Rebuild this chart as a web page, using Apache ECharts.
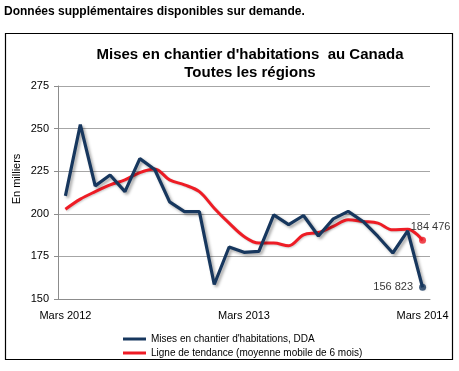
<!DOCTYPE html>
<html>
<head>
<meta charset="utf-8">
<script src="https://cdn.jsdelivr.net/npm/echarts@6/dist/echarts.min.js"></script>
<style>html,body{margin:0;padding:0;background:#fff;}#c{width:459px;height:371px;}</style>
</head>
<body>
<div id="c"></div>
<script>
const categories = [
  "Mars 2012","Avr. 2012","Mai 2012","Juin 2012","Juil. 2012","Août 2012","Sept. 2012","Oct. 2012","Nov. 2012","Déc. 2012","Janv. 2013","Févr. 2013",
  "Mars 2013","Avr. 2013","Mai 2013","Juin 2013","Juil. 2013","Août 2013","Sept. 2013","Oct. 2013","Nov. 2013","Déc. 2013","Janv. 2014","Févr. 2014",
  "Mars 2014"
];
const starts = [210.5, 252.3, 216.4, 222.8, 213, 232.4, 226, 207, 201.3, 201.3, 158.5, 180.5,
  177.4, 178, 199.4, 193.6, 199, 187, 197, 201.4, 195.5, 186.7, 177, 190, 156.823];
const trend = [202.7, 208.6, 213, 217, 219.9, 224.2, 226.3, 219.9, 217, 213, 203.3, 194.5,
  186.7, 182.8, 182.8, 181.3, 187.7, 189, 192.6, 196.5, 195.5, 194.5, 190.6, 191, 184.476];
const yTicks = [150, 175, 200, 225, 250, 275];
const seriesNames = ["Mises en chantier d'habitations, DDA", "Ligne de tendance (moyenne mobile de 6 mois)"];

const fmt = v => {
  const s = Math.round(v * 1000).toString();
  return s.replace(/\B(?=(\d{3})+(?!\d))/g, ' ');
};
const last = categories.length - 1;
const navy = '#17375E', red = '#EE1C25';
const FONT = '"Liberation Sans", Arial, sans-serif';

const chart = echarts.init(document.getElementById('c'), null, {renderer: 'canvas'});
chart.setOption({
  animation: false,
  backgroundColor: '#fff',
  textStyle: {fontFamily: FONT},
  graphic: [
    {type: 'text', left: 4, top: 6, style: {text: 'Données supplémentaires disponibles sur demande.', font: 'bold 12px ' + FONT, fill: '#000'}},
    {type: 'rect', shape: {x: 5.5, y: 33.5, width: 447, height: 326}, style: {fill: 'none', stroke: '#000', lineWidth: 1.2}},
    {type: 'text', x: 250, y: 46, style: {text: "Mises en chantier d'habitations  au Canada\nToutes les régions", font: 'bold 15px ' + FONT, fill: '#000', align: 'center', lineHeight: 18}},
    {type: 'text', x: 11, y: 179, rotation: Math.PI / 2, style: {text: 'En milliers', font: '11px ' + FONT, fill: '#000', align: 'center', verticalAlign: 'top'}}
  ],
  grid: {left: 58, right: 29, top: 86, bottom: 72},
  legend: {
    orient: 'vertical', left: 118, top: 329, itemWidth: 23, itemHeight: 3, itemGap: 4,
    icon: 'rect',
    textStyle: {fontSize: 10, color: '#000', fontFamily: FONT},
    data: seriesNames
  },
  xAxis: {
    type: 'category', data: categories, boundaryGap: true,
    axisLine: {lineStyle: {color: '#8c8c8c'}},
    axisTick: {show: false},
    axisLabel: {interval: 11, color: '#000', fontSize: 11, margin: 11}
  },
  yAxis: {
    type: 'value', min: yTicks[0], max: yTicks[yTicks.length - 1], interval: 25,
    axisLine: {show: true, lineStyle: {color: '#8c8c8c'}},
    axisTick: {show: true, length: 4, lineStyle: {color: '#8c8c8c'}},
    axisLabel: {color: '#000', fontSize: 11, margin: 9},
    splitLine: {lineStyle: {color: '#a6a6a6'}}
  },
  series: [
    {
      name: seriesNames[0], type: 'line', data: starts, symbol: 'none', color: navy,
      lineStyle: {width: 3.2, color: navy, shadowColor: 'rgba(0,0,0,0.35)', shadowBlur: 3, shadowOffsetX: 2, shadowOffsetY: 2},
      z: 3
    },
    {
      name: seriesNames[1], type: 'line', data: trend, symbol: 'none', color: red, smooth: 0.35,
      lineStyle: {width: 3, color: red, shadowColor: 'rgba(0,0,0,0.2)', shadowBlur: 2, shadowOffsetX: 1, shadowOffsetY: 1},
      z: 2
    },
    {
      type: 'scatter', data: [[categories[last], starts[last]]], symbol: 'circle', symbolSize: 7,
      itemStyle: {color: navy}, z: 4, silent: true,
      label: {show: true, position: 'left', distance: 6, formatter: p => fmt(p.value[1]), color: '#000', fontSize: 11}
    },
    {
      type: 'scatter', data: [[categories[last], trend[last]]], symbol: 'circle', symbolSize: 7,
      itemStyle: {color: red}, z: 4, silent: true,
      label: {show: true, position: 'top', distance: 4, offset: [8, 0], formatter: p => fmt(p.value[1]), color: '#000', fontSize: 11}
    }
  ]
});
</script>
</body>
</html>
